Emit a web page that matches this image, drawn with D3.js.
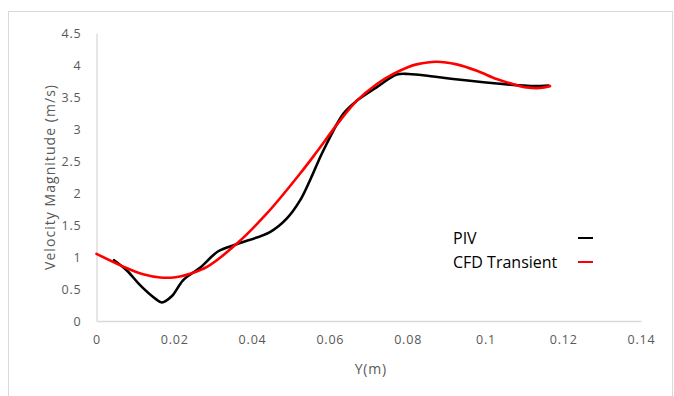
<!DOCTYPE html>
<html>
<head>
<meta charset="utf-8">
<script src="https://cdn.jsdelivr.net/npm/d3@7"></script>
<style>
  body { margin: 0; background: #fff; }
  svg { display: block; }
</style>
</head>
<body>
<svg id="chart" width="674" height="396"></svg>
<script>
// PIV measurement (Y in m, velocity magnitude in m/s)
const pivY = [0.0045, 0.0078, 0.0112, 0.0151, 0.0168, 0.0194, 0.0223, 0.0266, 0.0313, 0.036,
  0.0446, 0.0489, 0.0523, 0.0549, 0.0583, 0.0635, 0.0669, 0.072, 0.0772, 0.0802,
  0.0866, 0.0917, 0.0995, 0.1072, 0.1123, 0.1162];
const pivV = [0.95, 0.79, 0.56, 0.35, 0.29, 0.39, 0.64, 0.83, 1.09, 1.20,
  1.39, 1.60, 1.88, 2.20, 2.66, 3.24, 3.44, 3.65, 3.85, 3.86,
  3.82, 3.78, 3.73, 3.69, 3.67, 3.68];

// CFD transient result
const cfdY = [0, 0.0069, 0.012, 0.0164, 0.0198, 0.0241, 0.0284, 0.0361, 0.0438, 0.0523,
  0.0566, 0.0622, 0.0669, 0.072, 0.0763, 0.0802, 0.0823, 0.0875, 0.0926,
  0.0978, 0.1029, 0.1072, 0.1106, 0.114, 0.1166];
const cfdV = [1.05, 0.85, 0.73, 0.68, 0.68, 0.74, 0.845, 1.21, 1.68, 2.30,
  2.64, 3.10, 3.44, 3.70, 3.86, 3.97, 4.01, 4.05, 4.01,
  3.91, 3.78, 3.70, 3.65, 3.64, 3.67];

const xTicks = [0, 0.02, 0.04, 0.06, 0.08, 0.1, 0.12, 0.14];
const yTicks = [0, 0.5, 1, 1.5, 2, 2.5, 3, 3.5, 4, 4.5];

const seriesNames = ["PIV", "CFD Transient"];
const seriesColors = ["#000000", "#ff0000"];

const svg = d3.select("#chart");
const margin = { top: 33, right: 33, bottom: 75, left: 96.5 };
const W = 674, H = 396;
const width = W - margin.left - margin.right;
const height = H - margin.top - margin.bottom;

const font = "'Open Sans', 'Noto Sans', sans-serif";
const axisGrey = "#d9d9d9";
const textGrey = "#595959";

// chart border
svg.append("rect")
  .attr("x", 8.5).attr("y", 11.5)
  .attr("width", 664).attr("height", 400)
  .attr("fill", "#fff")
  .attr("stroke", axisGrey);

const g = svg.append("g")
  .attr("transform", `translate(${margin.left},${margin.top})`);

const x = d3.scaleLinear().domain([0, 0.14]).range([0, width]);
const y = d3.scaleLinear().domain([0, 4.5]).range([height, 0]);

// axes
const xAxis = g.append("g")
  .attr("transform", `translate(0,${height})`)
  .call(d3.axisBottom(x).tickValues(xTicks).tickSize(0).tickPadding(14)
    .tickFormat(d => d3.format("~g")(d)));
const yAxis = g.append("g")
  .call(d3.axisLeft(y).tickValues(yTicks).tickSize(0).tickPadding(15)
    .tickFormat(d => d3.format("~g")(d)));

[xAxis, yAxis].forEach(a => {
  a.select(".domain").attr("stroke", axisGrey).attr("stroke-width", 1.3);
  a.selectAll("text")
    .attr("fill", textGrey)
    .style("font-family", font)
    .style("font-size", "12.5px")
    .style("letter-spacing", "0.8px");
});

// axis titles
g.append("text")
  .attr("x", x(0.07) + 2)
  .attr("y", height + 53)
  .attr("text-anchor", "middle")
  .attr("fill", textGrey)
  .style("font-family", font)
  .style("font-size", "14px")
  .style("letter-spacing", "0.8px")
  .text("Y(m)");

g.append("text")
  .attr("transform", "rotate(-90)")
  .attr("x", -(177.5 - margin.top))
  .attr("y", -41.5)
  .attr("text-anchor", "middle")
  .attr("fill", textGrey)
  .attr("textLength", 185)
  .attr("lengthAdjust", "spacing")
  .style("font-family", font)
  .style("font-size", "14px")
  .text("Velocity Magnitude (m/s)");

// lines
const line = d3.line()
  .x(d => x(d[0]))
  .y(d => y(d[1]))
  .curve(d3.curveCatmullRom.alpha(0.5));

const series = [
  d3.zip(pivY, pivV),
  d3.zip(cfdY, cfdV)
];

series.forEach((pts, i) => {
  g.append("path")
    .datum(pts)
    .attr("fill", "none")
    .attr("stroke", seriesColors[i])
    .attr("stroke-width", 2.6)
    .attr("stroke-linejoin", "round")
    .attr("stroke-linecap", "round")
    .attr("d", line);
});

// legend
const legend = svg.append("g")
  .attr("transform", "translate(453,238)");

seriesNames.forEach((name, i) => {
  const row = legend.append("g").attr("transform", `translate(0,${i * 24})`);
  row.append("text")
    .attr("x", 0)
    .attr("y", 6)
    .attr("fill", "#000")
    .style("font-family", font)
    .style("font-size", "16px")
    .text(name);
  row.append("line")
    .attr("x1", 125).attr("x2", 140)
    .attr("y1", 0).attr("y2", 0)
    .attr("stroke", seriesColors[i])
    .attr("stroke-width", 2);
});
</script>
</body>
</html>
